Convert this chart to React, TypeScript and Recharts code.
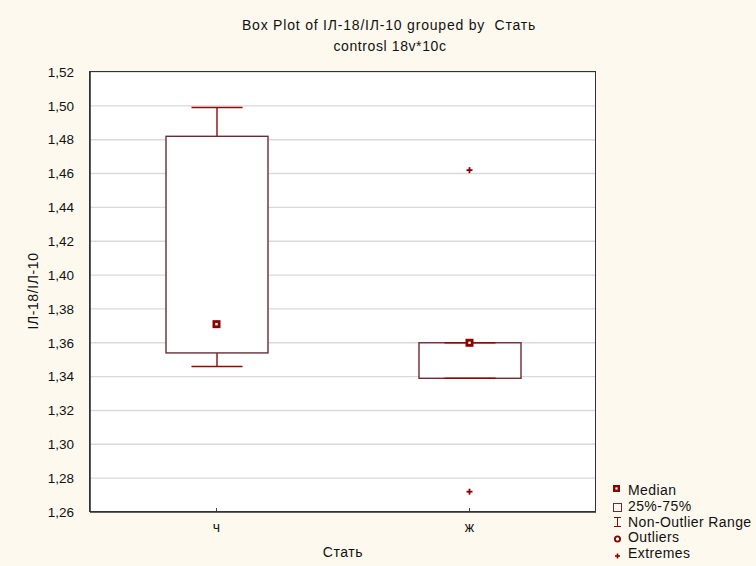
import React from 'react';
import {
  ComposedChart,
  Bar,
  Scatter,
  XAxis,
  YAxis,
  CartesianGrid,
} from 'recharts';

// Groups on the category axis
const categories = ['ч', 'ж'];
// Box plot statistics per group
const lowWhisker = [1.346, 1.339];
const q1 = [1.354, 1.339];
const median = [1.371, 1.36];
const q3 = [1.482, 1.36];
const highWhisker = [1.499, 1.36];
// Extreme values (none for the first group)
const extremeHigh: (number | null)[] = [null, 1.462];
const extremeLow: (number | null)[] = [null, 1.272];
// Value axis ticks
const yTicks = [1.26, 1.28, 1.3, 1.32, 1.34, 1.36, 1.38, 1.4, 1.42, 1.44, 1.46, 1.48, 1.5, 1.52];

const data = categories.map((cat, i) => ({
  cat,
  range: [lowWhisker[i], highWhisker[i]],
  lo: lowWhisker[i],
  q1: q1[i],
  median: median[i],
  q3: q3[i],
  hi: highWhisker[i],
  extHi: extremeHigh[i],
  extLo: extremeLow[i],
}));

const FONT = '"Liberation Sans", Arial, sans-serif';
const BOX = '#6e2a34';
const WHISKER = '#8b0a0a';
const MARK = '#8b0000';

const BoxShape = (props: any) => {
  const { x, y, width, height, payload } = props;
  if (!payload || !Number.isFinite(y) || !Number.isFinite(height)) return null;
  const top = Math.min(y, y + height);
  const bottom = Math.max(y, y + height);
  const { lo, hi } = payload;
  const span = hi - lo || 1;
  const py = (v: number) => bottom - ((v - lo) / span) * (bottom - top);
  const cx = x + width / 2;
  const capHalf = width / 4;
  const yQ1 = py(payload.q1);
  const yQ3 = py(payload.q3);
  const yLo = py(lo);
  const yHi = py(hi);
  return (
    <g>
      <line x1={cx} x2={cx} y1={yHi} y2={yQ3} stroke={WHISKER} strokeWidth={1.4} />
      <line x1={cx} x2={cx} y1={yQ1} y2={yLo} stroke={WHISKER} strokeWidth={1.4} />
      <rect x={x} y={yQ3} width={width} height={Math.max(yQ1 - yQ3, 0)} fill="#fff" stroke={BOX} strokeWidth={1.4} />
      <line x1={cx - capHalf} x2={cx + capHalf} y1={yHi} y2={yHi} stroke={WHISKER} strokeWidth={1.6} />
      <line x1={cx - capHalf} x2={cx + capHalf} y1={yLo} y2={yLo} stroke={WHISKER} strokeWidth={1.6} />
    </g>
  );
};

const MedianShape = (props: any) => {
  const { cx, cy } = props;
  if (!Number.isFinite(cx) || !Number.isFinite(cy)) return null;
  return (
    <g>
      <rect x={cx - 4} y={cy - 4} width={8} height={8} fill={MARK} />
      <rect x={cx - 1.2} y={cy - 1.2} width={2.4} height={2.4} fill="#fff" />
    </g>
  );
};

const ExtremeShape = (props: any) => {
  const { cx, cy, payload, dataKey } = props;
  if (!Number.isFinite(cx) || !Number.isFinite(cy)) return null;
  if (payload && dataKey && payload[dataKey] == null) return null;
  return (
    <g stroke={MARK} strokeWidth={1.8}>
      <line x1={cx - 3} x2={cx + 3} y1={cy} y2={cy} />
      <line x1={cx} x2={cx} y1={cy - 3} y2={cy + 3} />
    </g>
  );
};

const XTick = (props: any) => {
  const { x, y, payload } = props;
  const axisY = y - 8;
  return (
    <g>
      <line x1={x} x2={x} y1={axisY} y2={axisY - 4} stroke="#444" strokeWidth={1} />
      <text x={x} y={axisY + 20} textAnchor="middle" fontFamily={FONT} fontSize={14} fill="#111">
        {payload.value}
      </text>
    </g>
  );
};

const fmt = (v: number) => v.toFixed(2).replace('.', ',');

const legendItems = ['Median', '25%-75%', 'Non-Outlier Range', 'Outliers', 'Extremes'];

export default function App() {
  return (
    <div
      style={{
        position: 'absolute',
        left: 0,
        top: 0,
        width: 756,
        height: 566,
        background: '#fdf9ee',
        fontFamily: FONT,
        overflow: 'hidden',
      }}
    >
      <ComposedChart
        width={756}
        height={566}
        data={data}
        margin={{ top: 72, right: 160, bottom: 24, left: 30 }}
        barCategoryGap={0}
      >
        <CartesianGrid horizontal vertical={false} stroke="#d9d9d9" strokeWidth={1.4} fill="#fff" />
        <XAxis
          dataKey="cat"
          type="category"
          height={30}
          tickSize={6}
          tickMargin={2}
          tickLine={false}
          axisLine={{ stroke: '#333', strokeWidth: 1.6 }}
          tick={<XTick />}
        />
        <YAxis
          type="number"
          domain={[1.26, 1.52]}
          ticks={yTicks}
          width={60}
          tickFormatter={fmt}
          tickLine={false}
          tickMargin={10}
          axisLine={{ stroke: '#333', strokeWidth: 1.6 }}
          tick={{ fontFamily: FONT, fontSize: 13.5, fill: '#111' }}
          interval={0}
          allowDataOverflow
        />
        <Bar dataKey="range" barSize={102} shape={<BoxShape />} isAnimationActive={false} />
        <Scatter dataKey="median" shape={<MedianShape />} isAnimationActive={false} />
        <Scatter dataKey="extHi" shape={(p: any) => <ExtremeShape {...p} dataKey="extHi" />} isAnimationActive={false} />
        <Scatter dataKey="extLo" shape={(p: any) => <ExtremeShape {...p} dataKey="extLo" />} isAnimationActive={false} />
      </ComposedChart>

      {/* plot frame */}
      <div
        style={{
          position: 'absolute',
          left: 89,
          top: 71,
          width: 507,
          height: 441,
          boxSizing: 'border-box',
          border: '1.6px solid #333',
          pointerEvents: 'none',
        }}
      />

      {/* title */}
      <div style={{ position: 'absolute', left: 0, width: 778, top: 17, textAlign: 'center', fontSize: 14, letterSpacing: 0.8, color: '#111', whiteSpace: 'pre' }}>
        {'Box Plot of ІЛ-18/ІЛ-10 grouped by  Стать'}
      </div>
      <div style={{ position: 'absolute', left: 0, width: 780, top: 38, textAlign: 'center', fontSize: 14, letterSpacing: 0.6, color: '#111' }}>
        controsl 18v*10c
      </div>

      {/* axis titles */}
      <div
        style={{
          position: 'absolute',
          left: 33,
          top: 291,
          transform: 'translate(-50%, -50%) rotate(-90deg)',
          fontSize: 14,
          letterSpacing: 0.6,
          color: '#111',
          whiteSpace: 'nowrap',
        }}
      >
        ІЛ-18/ІЛ-10
      </div>
      <div style={{ position: 'absolute', left: 243, width: 200, top: 544, textAlign: 'center', fontSize: 14, letterSpacing: 0.6, color: '#111' }}>
        Стать
      </div>

      {/* legend */}
      <svg style={{ position: 'absolute', left: 600, top: 475 }} width={156} height={91}>
        <rect x={13} y={10} width={7} height={7} fill={MARK} />
        <rect x={15.4} y={12.4} width={2.2} height={2.2} fill="#fff" />
        <rect x={13.5} y={28.5} width={8} height={8} fill="none" stroke={BOX} strokeWidth={1} />
        <g stroke={WHISKER} strokeWidth={1}>
          <line x1={14} x2={21} y1={42.5} y2={42.5} />
          <line x1={17.5} x2={17.5} y1={42.5} y2={51.5} />
          <line x1={14} x2={21} y1={51.5} y2={51.5} />
        </g>
        <circle cx={17.5} cy={64} r={2.6} fill="none" stroke={MARK} strokeWidth={1.8} />
        <g stroke={MARK} strokeWidth={1.6}>
          <line x1={15} x2={20} y1={81} y2={81} />
          <line x1={17.5} x2={17.5} y1={78.5} y2={83.5} />
        </g>
        {legendItems.map((t, i) => (
          <text key={t} x={28} y={20 + i * 15.8} fontFamily={FONT} fontSize={14} letterSpacing={0.4} fill="#111">
            {t}
          </text>
        ))}
      </svg>
    </div>
  );
}
